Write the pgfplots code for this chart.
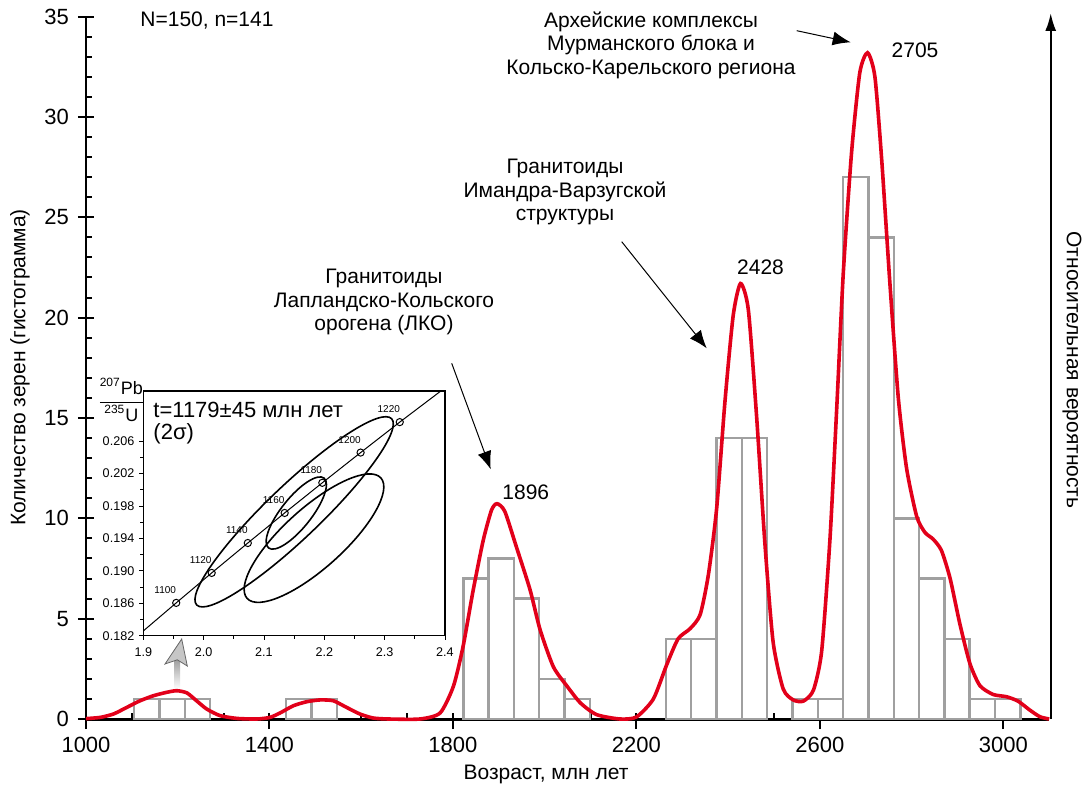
\documentclass[border=0pt]{standalone}
\usepackage{fontspec}
\setmainfont{Liberation Sans}
\usepackage{pgfplots}
\pgfplotsset{compat=1.18}
\usetikzlibrary{arrows.meta}
\definecolor{kde}{HTML}{E2001A}
\definecolor{barc}{HTML}{A0A0A0}
\begin{document}
\begin{tikzpicture}[x=1pt,y=1pt]
\useasboundingbox (0,0) rectangle (542.5,393.5);
% gray arrow (drawn first, under the curve)
\shade[top color=gray!75, bottom color=white] (87.2,49) rectangle (90,63.5);
\filldraw[fill=gray!45, draw=gray!80!black, line width=0.4pt] (90.85,74) -- (82.5,61.5) -- (88.65,63.6) -- (93.65,60.5) -- cycle;
\begin{axis}[
  at={(43pt,34pt)}, anchor=south west,
  scale only axis, width=481.6pt, height=351.2pt,
  xmin=1000, xmax=3100, ymin=0, ymax=35,
  clip=false,
  axis x line=bottom, axis y line=left, axis line style={-},
  x axis line style={line width=1.5pt},
  y axis line style={line width=1.2pt},
  xtick={1000,1400,1800,2200,2600,3000},
  xticklabels={1000,1400,1800,2200,2600,3000},
  ytick={0,5,10,15,20,25,30,35},
  yticklabels={0,5,10,15,20,25,30,35},
  minor x tick num=3, minor y tick num=4,
  tick align=inside, major tick length=8pt, minor tick length=3pt,
  every tick/.append style={line width=1pt, black},
  every major x tick/.append style={yshift=-5pt},
  every major y tick/.append style={xshift=-4pt},
  tick label style={font=\fontsize{11}{13}\selectfont},
  xticklabel style={yshift=-5.5pt},
  yticklabel style={xshift=-5pt},
]
\addplot[ybar interval, draw=barc, fill=white, line width=1.2pt, forget plot] coordinates {(1105,1) (1160.2,1) (1215.4,1) (1270.6,0)};
\addplot[ybar interval, draw=barc, fill=white, line width=1.2pt, forget plot] coordinates {(1436.2,1) (1491.4,1) (1546.6,0)};
\addplot[ybar interval, draw=barc, fill=white, line width=1.2pt, forget plot] coordinates {(1822.6,7) (1877.8,8) (1933,6) (1988.2,2) (2043.4,1) (2098.6,0)};
\addplot[ybar interval, draw=barc, fill=white, line width=1.2pt, forget plot] coordinates {(2264.2,4) (2319.4,4) (2374.6,14) (2429.8,14) (2485,0)};
\addplot[ybar interval, draw=barc, fill=white, line width=1.2pt, forget plot] coordinates {(2540.2,1) (2595.4,1) (2650.6,27) (2705.8,24) (2761,10) (2816.2,7) (2871.4,4) (2926.6,1) (2981.8,1) (3037,0)};
\addplot[kde, line width=1.8pt, smooth, tension=0.4] coordinates {
(1000,0.02) (1031,0.08) (1060,0.25) (1089,0.58) (1118,0.91) (1147,1.16) (1176,1.33) (1198,1.41) (1220,1.3) (1241,0.91) (1263,0.5) (1292,0.17) (1329,0.03) (1372,0.0) (1401,0.08) (1423,0.3) (1452,0.66) (1481,0.86) (1510,0.95) (1539,0.91) (1568,0.58) (1597,0.25) (1626,0.05) (1660,0) (1728,0.0) (1772,0.3) (1801,1.63) (1822,3.6) (1844,6.4) (1866,8.9) (1884,10.4) (1896,10.73) (1913,10.35) (1938,8.6) (1968,6.45) (1990,4.45) (2019,2.6) (2049,1.63) (2078,0.8) (2113,0.22) (2164,0.0) (2200,0.1) (2237,1.0) (2266,2.7) (2291,4.0) (2317,4.5) (2339,5.2) (2357,7.2) (2375,10.5) (2393,15.8) (2411,20.1) (2427,21.7) (2444,20.4) (2462,15.1) (2480,8.8) (2498,3.85) (2520,1.5) (2542,0.95) (2564,0.89) (2586,1.44) (2604,3.4) (2622,8.96) (2637,15.6) (2651,22.2) (2669,28.2) (2687,32.2) (2704,33.2) (2720,32.0) (2735,27.8) (2753,21.6) (2771,16.0) (2789,12.5) (2811,10.1) (2829,9.3) (2847,8.96) (2865,8.4) (2884,7.0) (2905,4.76) (2927,2.77) (2949,1.66) (2978,1.22) (3007,1.11) (3032,0.89) (3058,0.44) (3080,0.11) (3100,0.0)};
\end{axis}
% right axis
\draw[line width=1.1pt, -{Latex[length=9pt,width=5.5pt]}] (525.35,34) -- (525.35,387);
% axis labels
\node[font=\fontsize{10.5}{12}\selectfont] at (273,6.5) {Возраст, млн лет};
\node[font=\fontsize{10.5}{12}\selectfont, rotate=90] at (10,209.75) {Количество зерен (гистограмма)};
\node[font=\fontsize{10.5}{12}\selectfont, rotate=-90] at (536,208.5) {Относительная вероятность};
% texts
\node[font=\fontsize{10.5}{12}\selectfont, anchor=west, inner sep=0] at (70,383) {N=150, n=141};
\node[font=\fontsize{10.5}{11.75}\selectfont, align=center] at (325.5,371) {Архейские комплексы\\Мурманского блока и\\Кольско-Карельского региона};
\node[font=\fontsize{10.5}{11.75}\selectfont, align=center] at (282.5,297.5) {Гранитоиды\\Имандра-Варзугской\\структуры};
\node[font=\fontsize{10.5}{11.75}\selectfont, align=center] at (192,242.5) {Гранитоиды\\Лапландско-Кольского\\орогена (ЛКО)};
\node[font=\fontsize{10.5}{12}\selectfont] at (457.5,368.5) {2705};
\node[font=\fontsize{10.5}{12}\selectfont] at (380.25,260) {2428};
\node[font=\fontsize{10.5}{12}\selectfont] at (262.9,147.25) {1896};
\draw[line width=0.5pt, -{Latex[length=9pt,width=7pt]}] (225.85,211.85) -- (245.35,158.85);
\draw[line width=0.5pt, -{Latex[length=9pt,width=7pt]}] (310.85,272.65) -- (353.35,219.35);
\draw[line width=0.5pt, -{Latex[length=9pt,width=7pt]}] (398.35,378.15) -- (425.35,372.35);
% inset
\begin{axis}[
  at={(71.67pt,75.65pt)}, anchor=south west,
  scale only axis, width=150.8pt, height=122.35pt,
  xmin=1.9, xmax=2.4, ymin=0.182, ymax=0.2122,
  axis background/.style={fill=white},
  axis line style={line width=0.6pt},
  xtick={1.9,2,2.1,2.2,2.3,2.4},
  xticklabels={1.9,2.0,2.1,2.2,2.3,2.4},
  ytick={0.182,0.186,0.190,0.194,0.198,0.202,0.206},
  yticklabels={0.182,0.186,0.190,0.194,0.198,0.202,0.206},
  minor y tick num=1, minor x tick num=1,
  xtick pos=bottom, ytick pos=left,
  tick align=outside, major tick length=2pt, minor tick length=1.5pt,
  every tick/.append style={line width=0.4pt, black},
  tick label style={font=\fontsize{6.3}{7}\selectfont},
  yticklabel style={xshift=1pt},
  xticklabel style={yshift=-0.5pt},
]
\addplot[black, line width=0.5pt] coordinates {(1.9,0.18259) (1.9545,0.18605) (2.0133,0.18975) (2.0732,0.19344) (2.1343,0.19715) (2.1967,0.20087) (2.2602,0.20460) (2.3251,0.20836) (2.4,0.21258)};
\addplot[only marks, mark=o, mark size=1.8pt, mark options={fill=white, line width=0.5pt}] coordinates {(1.9545,0.18605) (2.0133,0.18975) (2.0732,0.19344) (2.1343,0.19715) (2.1967,0.20087) (2.2602,0.20460) (2.3251,0.20836)};
\coordinate (E1) at (axis cs:2.15,0.19729);
\coordinate (E2) at (axis cs:2.1536,0.19714);
\coordinate (E3) at (axis cs:2.1829,0.19404);
\coordinate (TL) at (rel axis cs:0,1);
\node[font=\fontsize{5}{6}\selectfont, xshift=-5.5pt, yshift=6.5pt] at (axis cs:1.9545,0.18605) {1100};
\node[font=\fontsize{5}{6}\selectfont, xshift=-5.5pt, yshift=6.5pt] at (axis cs:2.0133,0.18975) {1120};
\node[font=\fontsize{5}{6}\selectfont, xshift=-5.5pt, yshift=6.5pt] at (axis cs:2.0732,0.19344) {1140};
\node[font=\fontsize{5}{6}\selectfont, xshift=-5.5pt, yshift=6.5pt] at (axis cs:2.1343,0.19715) {1160};
\node[font=\fontsize{5}{6}\selectfont, xshift=-5.5pt, yshift=6.5pt] at (axis cs:2.1967,0.20087) {1180};
\node[font=\fontsize{5}{6}\selectfont, xshift=-5.5pt, yshift=6.5pt] at (axis cs:2.2602,0.20460) {1200};
\node[font=\fontsize{5}{6}\selectfont, xshift=-5.5pt, yshift=6.5pt] at (axis cs:2.3251,0.20836) {1220};
\end{axis}
\draw[line width=0.8pt, rotate around={43.7:(E1)}] (E1) ellipse [x radius=67.4pt, y radius=13.3pt];
\draw[line width=0.8pt, rotate around={51.5:(E2)}] (E2) ellipse [x radius=22.3pt, y radius=7.5pt];
\draw[line width=0.8pt, rotate around={42:(E3)}] (E3) ellipse [x radius=45pt, y radius=15pt];
\node[font=\fontsize{11}{11}\selectfont, anchor=north west, inner sep=0, align=left] at ([xshift=4.85pt,yshift=-5.5pt]TL) {t=1179±45 млн лет\\(2σ)};
\node[inner sep=0] at ([xshift=-11pt,yshift=-4.5pt]TL) {$\displaystyle\frac{\mbox{\fontsize{9}{10}\selectfont\textsuperscript{207}Pb}}{\mbox{\fontsize{9}{10}\selectfont\textsuperscript{235}U}}$};
\end{tikzpicture}
\end{document}
